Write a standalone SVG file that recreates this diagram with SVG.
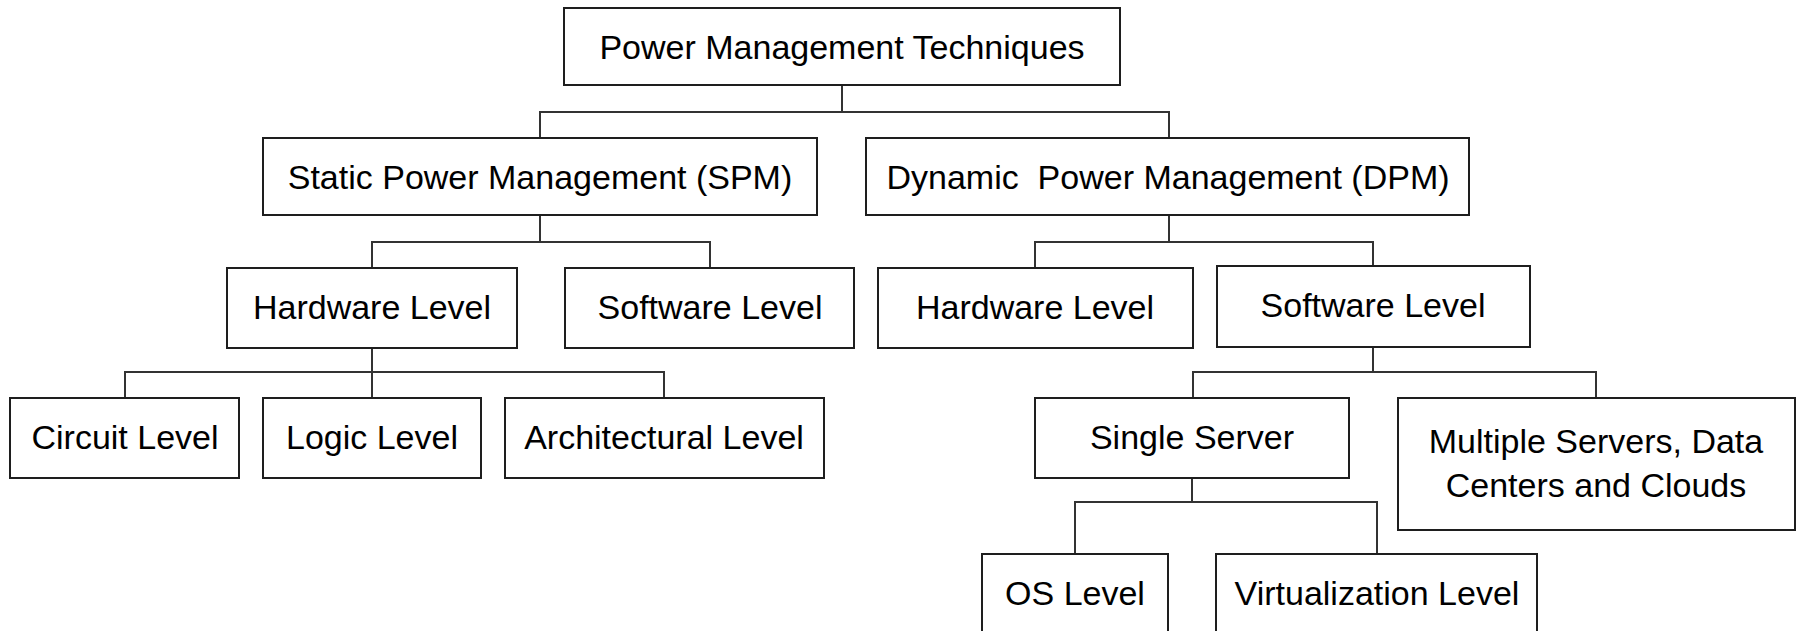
<svg xmlns="http://www.w3.org/2000/svg" width="1800" height="631" viewBox="0 0 1800 631">
  <style>
    .box { fill: #ffffff; stroke: #1e1e1e; stroke-width: 2; }
    .lbl { font-family: "Liberation Sans", Arial, sans-serif; font-size: 34px; fill: #000000; text-anchor: middle; }
    .link { fill: none; stroke: #333333; stroke-width: 2; }
  </style>
  <rect width="1800" height="631" fill="#ffffff"/>

  <!-- connectors -->
  <g id="connectors">
    <path class="link" d="M842,85 V112 M540,138 V112 H1169 V138"/>
    <path class="link" d="M540,215 V242 M372,268 V242 H710 V268"/>
    <path class="link" d="M372,348 V372 M125,398 V372 H664 V398 M372,372 V398"/>
    <path class="link" d="M1169,215 V242 M1035,268 V242 H1373 V266"/>
    <path class="link" d="M1373,347 V372 M1193,398 V372 H1596 V398"/>
    <path class="link" d="M1192,478 V502 M1075,554 V502 H1377 V554"/>
  </g>

  <g id="pmt">
    <rect class="box" x="564" y="8" width="556" height="77"/>
    <text class="lbl" x="842" y="59">Power Management Techniques</text>
  </g>

  <g id="spm">
    <rect class="box" x="263" y="138" width="554" height="77"/>
    <text class="lbl" x="540" y="189">Static Power Management (SPM)</text>
  </g>
  <g id="dpm">
    <rect class="box" x="866" y="138" width="603" height="77"/>
    <text class="lbl" x="1168" y="189" xml:space="preserve">Dynamic  Power Management (DPM)</text>
  </g>

  <g id="spm-hw">
    <rect class="box" x="227" y="268" width="290" height="80"/>
    <text class="lbl" x="372" y="319">Hardware Level</text>
  </g>
  <g id="spm-sw">
    <rect class="box" x="565" y="268" width="289" height="80"/>
    <text class="lbl" x="710" y="319">Software Level</text>
  </g>

  <g id="circuit">
    <rect class="box" x="10" y="398" width="229" height="80"/>
    <text class="lbl" x="125" y="449">Circuit Level</text>
  </g>
  <g id="logic">
    <rect class="box" x="263" y="398" width="218" height="80"/>
    <text class="lbl" x="372" y="449">Logic Level</text>
  </g>
  <g id="architectural">
    <rect class="box" x="505" y="398" width="319" height="80"/>
    <text class="lbl" x="664" y="449">Architectural Level</text>
  </g>

  <g id="dpm-hw">
    <rect class="box" x="878" y="268" width="315" height="80"/>
    <text class="lbl" x="1035" y="319">Hardware Level</text>
  </g>
  <g id="dpm-sw">
    <rect class="box" x="1217" y="266" width="313" height="81"/>
    <text class="lbl" x="1373" y="317">Software Level</text>
  </g>

  <g id="single-server">
    <rect class="box" x="1035" y="398" width="314" height="80"/>
    <text class="lbl" x="1192" y="449">Single Server</text>
  </g>
  <g id="multiple-servers">
    <rect class="box" x="1398" y="398" width="397" height="132"/>
    <text class="lbl" x="1596" y="453">Multiple Servers, Data</text>
    <text class="lbl" x="1596" y="497">Centers and Clouds</text>
  </g>

  <g id="os-level">
    <rect class="box" x="982" y="554" width="186" height="100"/>
    <text class="lbl" x="1075" y="605">OS Level</text>
  </g>
  <g id="virtualization">
    <rect class="box" x="1216" y="554" width="321" height="100"/>
    <text class="lbl" x="1377" y="605">Virtualization Level</text>
  </g>
</svg>
